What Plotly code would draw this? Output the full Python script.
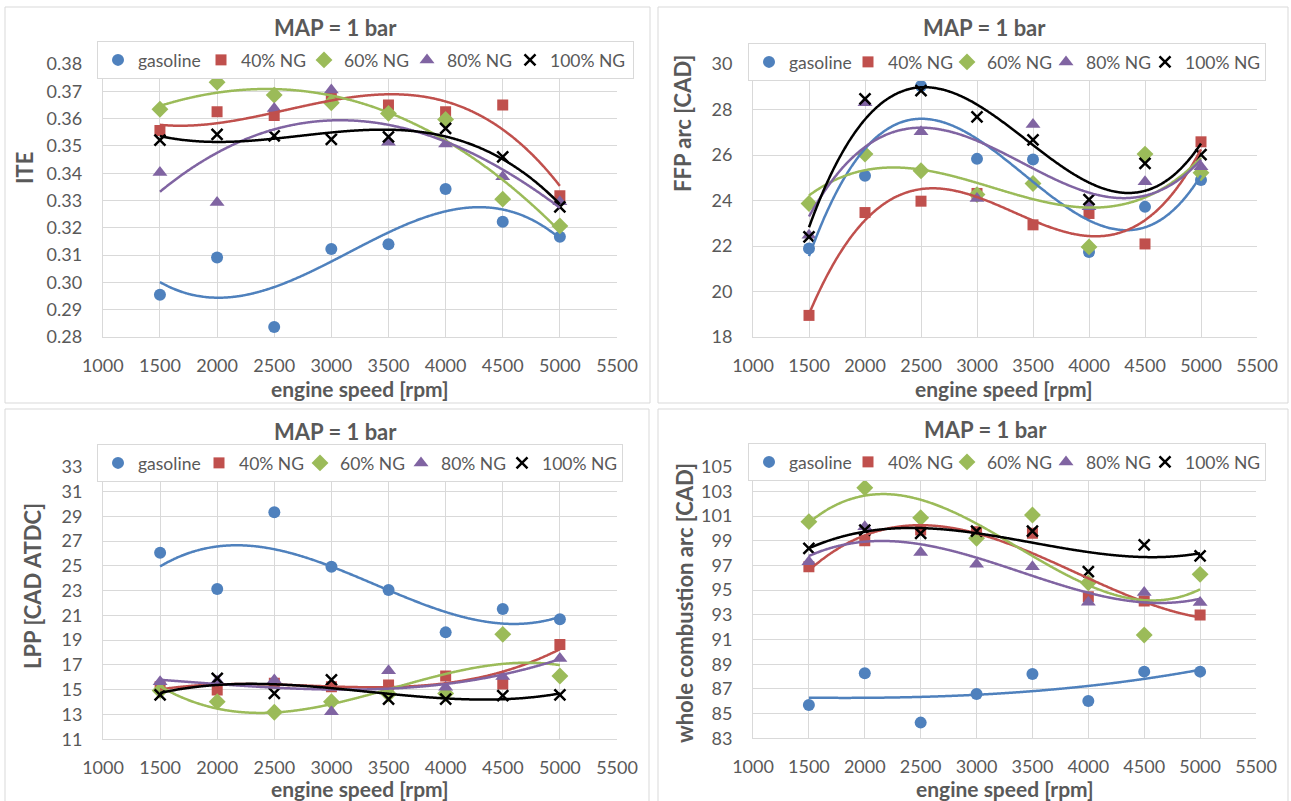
import numpy as np
import plotly.graph_objects as go

# ---------------- data ----------------
rpm = [1500, 2000, 2500, 3000, 3500, 4000, 4500, 5000]
series_names = ["gasoline", "40% NG", "60% NG", "80% NG", "100% NG"]

ite_gasoline = [0.2955, 0.3091, 0.2837, 0.3122, 0.3140, 0.3342, 0.3222, 0.3167]
ite_ng40 = [0.3556, 0.3625, 0.3611, 0.3680, 0.3650, 0.3625, 0.3650, 0.3317]
ite_ng60 = [0.3634, 0.3733, 0.3686, 0.3658, 0.3619, 0.3597, 0.3305, 0.3207]
ite_ng80 = [0.3403, 0.3293, 0.3637, 0.3705, 0.3513, 0.3507, 0.3387, 0.3295]
ite_ng100 = [0.3521, 0.3542, 0.3537, 0.3524, 0.3533, 0.3564, 0.3460, 0.3277]

ffp_gasoline = [21.89, 25.09, 29.03, 25.83, 25.80, 21.74, 23.72, 24.90]
ffp_ng40 = [18.95, 23.47, 23.97, 24.31, 22.93, 23.43, 22.09, 26.58]
ffp_ng60 = [23.87, 26.04, 25.31, 24.26, 24.75, 21.96, 26.04, 25.22]
ffp_ng80 = [22.47, 28.30, 27.02, 24.09, 27.34, 23.72, 24.82, 25.48]
ffp_ng100 = [22.40, 28.47, 28.83, 27.68, 26.66, 24.04, 25.63, 26.02]

lpp_gasoline = [26.06, 23.13, 29.32, 24.93, 23.05, 19.63, 21.52, 20.68]
lpp_ng40 = [15.25, 14.98, 15.52, 15.25, 15.38, 16.11, 15.46, 18.66]
lpp_ng60 = [14.93, 14.04, 13.18, 14.04, 14.66, 14.70, 19.47, 16.11]
lpp_ng80 = [15.65, 15.70, 15.79, 13.23, 16.54, 15.20, 16.06, 17.53]
lpp_ng100 = [14.58, 15.92, 14.71, 15.79, 14.25, 14.25, 14.52, 14.58]

wca_gasoline = [85.70, 88.27, 84.27, 86.59, 88.21, 86.03, 88.40, 88.40]
wca_ng40 = [96.90, 99.00, 99.87, 99.74, 99.60, 94.47, 94.12, 92.99]
wca_ng60 = [100.55, 103.30, 100.87, 99.20, 101.09, 95.60, 91.37, 96.28]
wca_ng80 = [97.31, 100.14, 98.04, 97.09, 96.90, 94.02, 94.80, 94.00]
wca_ng100 = [98.39, 99.87, 99.60, 99.79, 99.79, 96.50, 98.66, 97.77]

x_ticks = [1000, 1500, 2000, 2500, 3000, 3500, 4000, 4500, 5000, 5500]
panel_title = "MAP = 1 bar"
x_title = "engine speed [rpm]"
y_titles = ["ITE", "FFP arc [CAD]", "LPP [CAD ATDC]", "whole combustion arc [CAD]"]

# ---------------- styling ----------------
W, H = 1291, 801
FONT = "Lato"
TXT = "#595959"
GRID = "#D9D9D9"
colors = ["#4F81BD", "#C0504D", "#9BBB59", "#8064A2", "#000000"]
symbols = ["circle", "square", "diamond", "triangle-up", "x-thin-open"]
msizes = [12, 11, 13, 13, 11]

def px(x):
    return x / W

def py(y):
    return 1 - y / H

panels = [
    dict(data=[ite_gasoline, ite_ng40, ite_ng60, ite_ng80, ite_ng100],
         xd=(102.8, 617), yd=(337, 64), yr=[0.28, 0.38], dt=0.01, fmt=".2f",
         box=(5, 7, 650, 403), title=(335, 28), ytitle=(24, 168), xtitle=(360, 388),
         leg=(97, 41), lw=[58, 58, 58, 58, 78]),
    dict(data=[ffp_gasoline, ffp_ng40, ffp_ng60, ffp_ng80, ffp_ng100],
         xd=(753, 1257), yd=(337, 64), yr=[18, 30], dt=2, fmt="d",
         box=(658, 7, 1288, 403), title=(984, 28), ytitle=(683, 123), xtitle=(1004, 388),
         leg=(748, 43), lw=[54, 54, 54, 54, 75]),
    dict(data=[lpp_gasoline, lpp_ng40, lpp_ng60, lpp_ng80, lpp_ng100],
         xd=(103, 617), yd=(739.3, 466.7), yr=[11, 33], dt=2, fmt="d",
         box=(5, 409, 649, 810), title=(335, 431), ytitle=(32, 586), xtitle=(360, 788),
         leg=(97, 444), lw=[56, 56, 56, 56, 75]),
    dict(data=[wca_gasoline, wca_ng40, wca_ng60, wca_ng80, wca_ng100],
         xd=(753, 1256), yd=(738.3, 466.7), yr=[83, 105], dt=2, fmt="d",
         box=(658, 409, 1288, 810), title=(985, 429), ytitle=(684, 603), xtitle=(1005, 788),
         leg=(748, 443), lw=[54, 54, 54, 54, 75]),
]

fig = go.Figure()
layout = dict(
    width=W, height=H, margin=dict(l=0, r=0, t=0, b=0, autoexpand=False),
    paper_bgcolor="white", plot_bgcolor="white",
    font=dict(family=FONT, color=TXT, size=18),
    annotations=[], shapes=[],
)

xfit = np.linspace(1500, 5000, 300)

for i, p in enumerate(panels):
    n = "" if i == 0 else str(i + 1)
    xa, ya = "x" + n, "y" + n
    legname = "legend" + n
    for k, name in enumerate(series_names):
        vals = p["data"][k]
        fig.add_trace(go.Scatter(
            x=rpm, y=vals, mode="markers", name=name,
            xaxis=xa, yaxis=ya, legend=legname, legendwidth=p["lw"][k],
            marker=dict(symbol=symbols[k], size=msizes[k], color=colors[k],
                        line=dict(width=2.5 if k == 4 else 0, color=colors[k])),
        ))
    for k, name in enumerate(series_names):
        vals = p["data"][k]
        coef = np.polyfit(rpm, vals, 3)
        fig.add_trace(go.Scatter(
            x=xfit, y=np.polyval(coef, xfit), mode="lines", showlegend=False,
            xaxis=xa, yaxis=ya, hoverinfo="skip",
            line=dict(color=colors[k], width=2.5, shape="spline"),
        ))

    layout["xaxis" + n] = dict(
        domain=[px(p["xd"][0]), px(p["xd"][1])], anchor=ya, automargin=False,
        range=[1000, 5500], tickmode="array", tickvals=x_ticks,
        showgrid=True, gridcolor=GRID, gridwidth=1, zeroline=False,
        showline=True, linecolor=GRID, linewidth=1, mirror=False,
        ticks="", ticklabelstandoff=12,
        tickfont=dict(family=FONT, size=18, color=TXT),
    )
    layout["yaxis" + n] = dict(
        domain=[py(p["yd"][0]), py(p["yd"][1])], anchor=xa, automargin=False,
        range=p["yr"], dtick=p["dt"], tick0=p["yr"][0], tickformat=p["fmt"],
        showgrid=True, gridcolor=GRID, gridwidth=1, zeroline=False,
        showline=True, linecolor=GRID, linewidth=1,
        ticks="", ticklabelstandoff=16,
        tickfont=dict(family=FONT, size=18, color=TXT),
    )
    layout[legname] = dict(
        orientation="h", x=px(p["leg"][0]), y=py(p["leg"][1]),
        xanchor="left", yanchor="top", xref="paper", yref="paper",
        bgcolor="white", bordercolor=GRID, borderwidth=1,
        font=dict(family=FONT, size=17.5, color=TXT),
        itemwidth=30, tracegroupgap=0, entrywidthmode="pixels",
    )
    bx0, by0, bx1, by1 = p["box"]
    layout["shapes"].append(dict(
        type="rect", xref="paper", yref="paper",
        x0=px(bx0), x1=px(bx1), y0=py(by1), y1=py(by0),
        line=dict(color=GRID, width=1), fillcolor="rgba(0,0,0,0)", layer="below",
    ))
    layout["annotations"].append(dict(
        text="<b>" + panel_title + "</b>", xref="paper", yref="paper",
        x=px(p["title"][0]), y=py(p["title"][1]), xanchor="center", yanchor="middle",
        showarrow=False, font=dict(family=FONT, size=22, color=TXT),
    ))
    layout["annotations"].append(dict(
        text="<b>" + x_title + "</b>", xref="paper", yref="paper",
        x=px(p["xtitle"][0]), y=py(p["xtitle"][1]), xanchor="center", yanchor="middle",
        showarrow=False, font=dict(family=FONT, size=21, color=TXT),
    ))
    layout["annotations"].append(dict(
        text="<b>" + y_titles[i] + "</b>", xref="paper", yref="paper",
        x=px(p["ytitle"][0]), y=py(p["ytitle"][1]), xanchor="center", yanchor="middle",
        textangle=-90, showarrow=False, font=dict(family=FONT, size=22, color=TXT),
    ))

fig.update_layout(**layout)
fig.write_html("out.html")
